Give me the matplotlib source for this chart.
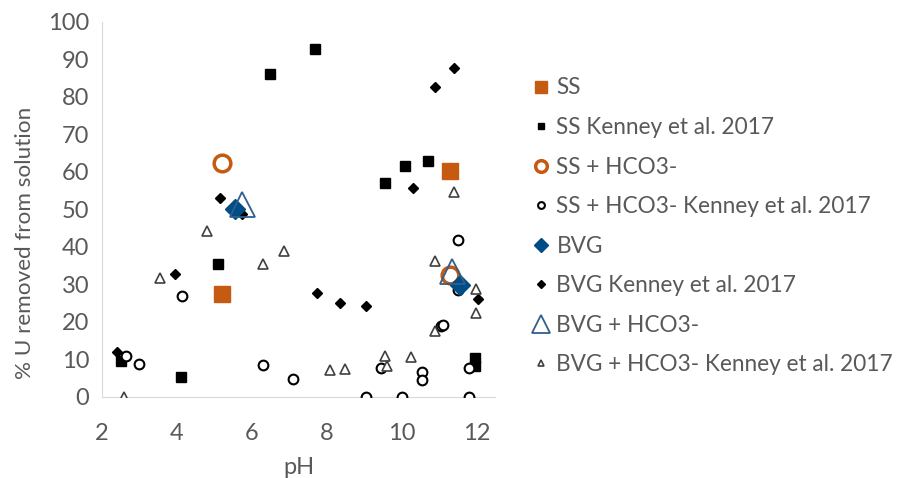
import numpy as np
import matplotlib.pyplot as plt

plt.rcParams['font.family'] = ['Lato', 'DejaVu Sans']

# data (pH, % U removed)
ss_x = [5.2, 11.3]
ss_y = [27.4, 60.2]

ss_k_x = [2.5, 4.1, 5.1, 6.5, 7.7, 9.55, 10.1, 10.7, 11.95, 11.95]
ss_k_y = [9.6, 5.3, 35.4, 86.2, 92.8, 57.1, 61.6, 62.8, 10.5, 8.3]

ssh_x = [5.2, 11.3]
ssh_y = [62.3, 32.6]

ssh_k_x = [2.65, 3.0, 4.15, 6.3, 7.1, 9.05, 9.45, 10.0, 10.55, 10.55,
           11.05, 11.1, 11.5, 11.5, 11.8, 11.8]
ssh_k_y = [11.0, 8.7, 26.9, 8.5, 4.8, 0.0, 7.6, 0.0, 6.6, 4.5,
           18.8, 19.3, 41.9, 28.4, 7.6, 0.0]

bvg_x = [5.55, 11.55]
bvg_y = [50.0, 29.8]

bvg_k_x = [2.4, 3.95, 5.15, 5.75, 7.75, 8.35, 9.05, 10.3, 10.9, 11.4, 12.05]
bvg_k_y = [11.9, 32.9, 53.0, 48.8, 27.8, 25.0, 24.2, 55.8, 82.7, 87.6, 26.2]

bvgh_x = [5.75, 11.35]
bvgh_y = [51.5, 33.5]

bvgh_k_x = [2.6, 3.55, 4.8, 6.3, 6.85, 8.1, 8.5, 9.55, 9.6, 10.25,
            10.9, 10.9, 11.4, 12.0, 12.0]
bvgh_k_y = [0.0, 31.8, 44.2, 35.5, 38.9, 7.1, 7.4, 11.0, 8.3, 10.6,
            17.5, 36.3, 54.7, 28.8, 22.5]

orange = "#C55A11"
blue = "#004C85"
grey = "#595959"
fs = 17

fig = plt.figure(figsize=(8.97, 4.78), dpi=100)
ax = fig.add_axes([0.1137, 0.1695, 0.4383, 0.7845])

ax.plot(ss_k_x, ss_k_y, ls="none", marker="s", ms=7, color="black",
        label="SS Kenney et al. 2017", zorder=3)
ax.plot(ssh_k_x, ssh_k_y, ls="none", marker="o", ms=7, mfc="white",
        mec="black", mew=1.5, label="SS + HCO3- Kenney et al. 2017", zorder=3)
ax.plot(bvg_k_x, bvg_k_y, ls="none", marker="D", ms=5.5, color="black",
        label="BVG Kenney et al. 2017", zorder=3)
ax.plot(bvgh_k_x, bvgh_k_y, ls="none", marker="^", ms=7, mfc="white",
        mec="#404040", mew=1.2, label="BVG + HCO3- Kenney et al. 2017",
        zorder=3)
ax.plot(ss_x, ss_y, ls="none", marker="s", ms=12, color=orange,
        label="SS", zorder=4)
ax.plot(ssh_x, ssh_y, ls="none", marker="o", ms=12, mfc="none",
        mec=orange, mew=2.5, label="SS + HCO3-", zorder=4)
ax.plot(bvg_x, bvg_y, ls="none", marker="D", ms=10, color=blue,
        label="BVG", zorder=4)
ax.plot(bvgh_x, bvgh_y, ls="none", marker="^", ms=18, mfc="none",
        mec="#2E5F8F", mew=1.3, label="BVG + HCO3-", zorder=4)

ax.set_xlim(2, 12.5)
ax.set_ylim(0, 100)
ax.set_xticks([2, 4, 6, 8, 10, 12])
ax.set_yticks(np.arange(0, 101, 10))
ax.tick_params(length=0, labelsize=fs, colors=grey)
ax.tick_params(axis="x", pad=19)
ax.tick_params(axis="y", pad=9)
for side in ["top", "right"]:
    ax.spines[side].set_visible(False)
for side in ["left", "bottom"]:
    ax.spines[side].set_color("#D9D9D9")
ax.set_xlabel("pH", fontsize=fs, color=grey, va="center")
ax.xaxis.set_label_coords(0.5, -0.187)
ax.set_ylabel("% U removed from solution", fontsize=16.2, color=grey,
              va="center")
ax.yaxis.set_label_coords(-0.195, 0.41)

order = ["SS", "SS Kenney et al. 2017", "SS + HCO3-",
         "SS + HCO3- Kenney et al. 2017", "BVG", "BVG Kenney et al. 2017",
         "BVG + HCO3-", "BVG + HCO3- Kenney et al. 2017"]
handles, labels = ax.get_legend_handles_labels()
lookup = dict(zip(labels, handles))
leg = fig.legend([lookup[k] for k in order], order, loc="upper left",
                 bbox_to_anchor=(0.5926, 0.838), frameon=False, fontsize=16.3,
                 markerscale=0.7, handlelength=0.8, handletextpad=0.3,
                 labelspacing=0.82, borderpad=0, borderaxespad=0)
for t in leg.get_texts():
    t.set_color(grey)

fig.savefig("out.png", dpi=100)
